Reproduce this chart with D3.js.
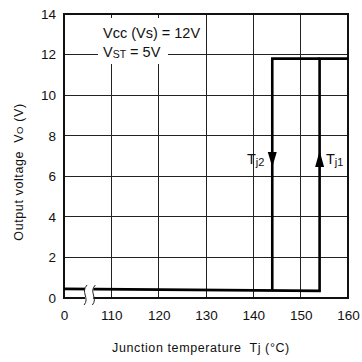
<!DOCTYPE html>
<html><head><meta charset="utf-8">
<script src="https://cdn.jsdelivr.net/npm/d3@7"></script>
<style>body{margin:0;background:#fff}svg{display:block}text{font-family:"Liberation Sans",Arial,sans-serif;white-space:pre}</style>
</head><body>
<script>
const xTicks = [100, 110, 120, 130, 140, 150, 160];
const xTickLabels = ["0", "110", "120", "130", "140", "150", "160"];
const yTicks = [0, 2, 4, 6, 8, 10, 12, 14];
const offPathT = [100, 154, 154, 160];
const offPathV = [0.45, 0.35, 11.8, 11.8];
const onPathT = [154, 144, 144];
const onPathV = [11.8, 11.8, 0.38];
const tj2 = 144, tj1 = 154;

const W = 362, H = 362;
const svg = d3.select("body").append("svg").attr("width", W).attr("height", H);
const x = d3.scaleLinear().domain([100, 160]).range([64, 348]);
const y = d3.scaleLinear().domain([0, 14]).range([298, 14]);
const g = svg.append("g");

// grid
g.selectAll(".vg").data(xTicks.slice(1, -1)).join("line")
  .attr("x1", d => x(d)).attr("x2", d => x(d)).attr("y1", y(14)).attr("y2", y(0))
  .attr("stroke", "#222").attr("stroke-width", 1).attr("shape-rendering", "crispEdges");
g.selectAll(".hg").data(yTicks.slice(1, -1)).join("line")
  .attr("x1", x(100)).attr("x2", x(160)).attr("y1", d => y(d)).attr("y2", d => y(d))
  .attr("stroke", "#222").attr("stroke-width", 1).attr("shape-rendering", "crispEdges");

// legend backgrounds
g.append("rect").attr("x", 99).attr("y", 18).attr("width", 99).attr("height", 26).attr("fill", "#fff");
g.append("rect").attr("x", 98).attr("y", 43).attr("width", 70).attr("height", 21).attr("fill", "#fff");

// frame
g.append("rect").attr("x", x(100)).attr("y", y(14)).attr("width", x(160) - x(100)).attr("height", y(0) - y(14))
  .attr("fill", "none").attr("stroke", "#111").attr("stroke-width", 1.3).attr("shape-rendering", "crispEdges");

// axes labels via d3 axes (no lines)
const xAxis = d3.axisBottom(x).tickValues(xTicks).tickFormat(d => xTickLabels[xTicks.indexOf(d)]).tickSize(0).tickPadding(12);
const xa = svg.append("g").attr("transform", `translate(0,${y(0)})`).call(xAxis);
xa.select(".domain").remove();
xa.selectAll("text").attr("font-size", 13.5).attr("fill", "#111").attr("font-family", "Liberation Sans, Arial, sans-serif");
const yAxis = d3.axisLeft(y).tickValues(yTicks).tickSize(0).tickPadding(8);
const ya = svg.append("g").attr("transform", `translate(${x(100)},0)`).call(yAxis);
ya.select(".domain").remove();
ya.selectAll("text").attr("font-size", 13.5).attr("fill", "#111").attr("font-family", "Liberation Sans, Arial, sans-serif");

// data lines
const line = d3.line().x(d => x(d[0])).y(d => y(d[1]));
const off = offPathT.map((t, i) => [t, offPathV[i]]);
const on = onPathT.map((t, i) => [t, onPathV[i]]);
g.append("path").attr("d", line(off)).attr("fill", "none").attr("stroke", "#000").attr("stroke-width", 2.6).attr("stroke-linejoin", "miter");
g.append("path").attr("d", line(on)).attr("fill", "none").attr("stroke", "#000").attr("stroke-width", 2.6).attr("stroke-linejoin", "miter");

// axis break
const bx1 = x(104.45), bx2 = x(106.2);
g.append("rect").attr("x", bx1).attr("y", y(0.9)).attr("width", bx2 - bx1).attr("height", y(0) - y(0.9) + 2).attr("fill", "#fff");
[bx1, bx2].forEach(bx => {
  const yc = 295;
  g.append("path").attr("d", `M${bx+2},${yc-10} C${bx-5},${yc-3} ${bx+5},${yc+3} ${bx-1},${yc+10}`)
    .attr("fill", "none").attr("stroke", "#222").attr("stroke-width", 1);
});

// arrows
function arrow(t, down) {
  const cx = x(t), tip = down ? 167 : 151, base = down ? 152 : 167;
  g.append("path").attr("d", `M${cx-4.5},${base} L${cx+4.5},${base} L${cx},${tip} Z`).attr("fill", "#000");
}
arrow(tj2, true);
arrow(tj1, false);

// Tj labels
function tjLabel(xp, sub) {
  const t = g.append("text").attr("x", xp).attr("y", 164).attr("font-size", 14.5).attr("fill", "#111")
    .attr("font-family", "DejaVu Sans, sans-serif");
  t.append("tspan").text("T");
  t.append("tspan").attr("font-size", 11).attr("dy", 2).text(sub);
}
tjLabel(247, "j2");
tjLabel(326, "j1");

// legend text
const l1 = g.append("text").attr("x", 103).attr("y", 38).attr("font-size", 14.5).attr("fill", "#111").attr("font-family", "DejaVu Sans Condensed, DejaVu Sans, sans-serif").attr("font-stretch", "condensed");
l1.append("tspan").text("Vcc (Vs) = 12V");
const l2 = g.append("text").attr("x", 103).attr("y", 57).attr("font-size", 14.5).attr("fill", "#111").attr("font-family", "DejaVu Sans Condensed, DejaVu Sans, sans-serif").attr("font-stretch", "condensed");
l2.append("tspan").text("V");
l2.append("tspan").attr("font-size", 10.5).attr("dy", 1).text("ST");
l2.append("tspan").attr("dy", -1).text(" = 5V");

// axis titles
const xt = svg.append("text").attr("x", 201).attr("y", 352).attr("text-anchor", "middle").attr("font-size", 12.5).attr("letter-spacing", 0.6).attr("fill", "#111");
xt.text("Junction temperature  Tj (°C)");
const yt = svg.append("text").attr("transform", `translate(23,172) rotate(-90)`).attr("text-anchor", "middle").attr("font-size", 12.5).attr("letter-spacing", 0.6).attr("fill", "#111");
yt.append("tspan").text("Output voltage  V");
yt.append("tspan").attr("font-size", 9.5).text("O");
yt.append("tspan").text(" (V)");
</script>
</body></html>
